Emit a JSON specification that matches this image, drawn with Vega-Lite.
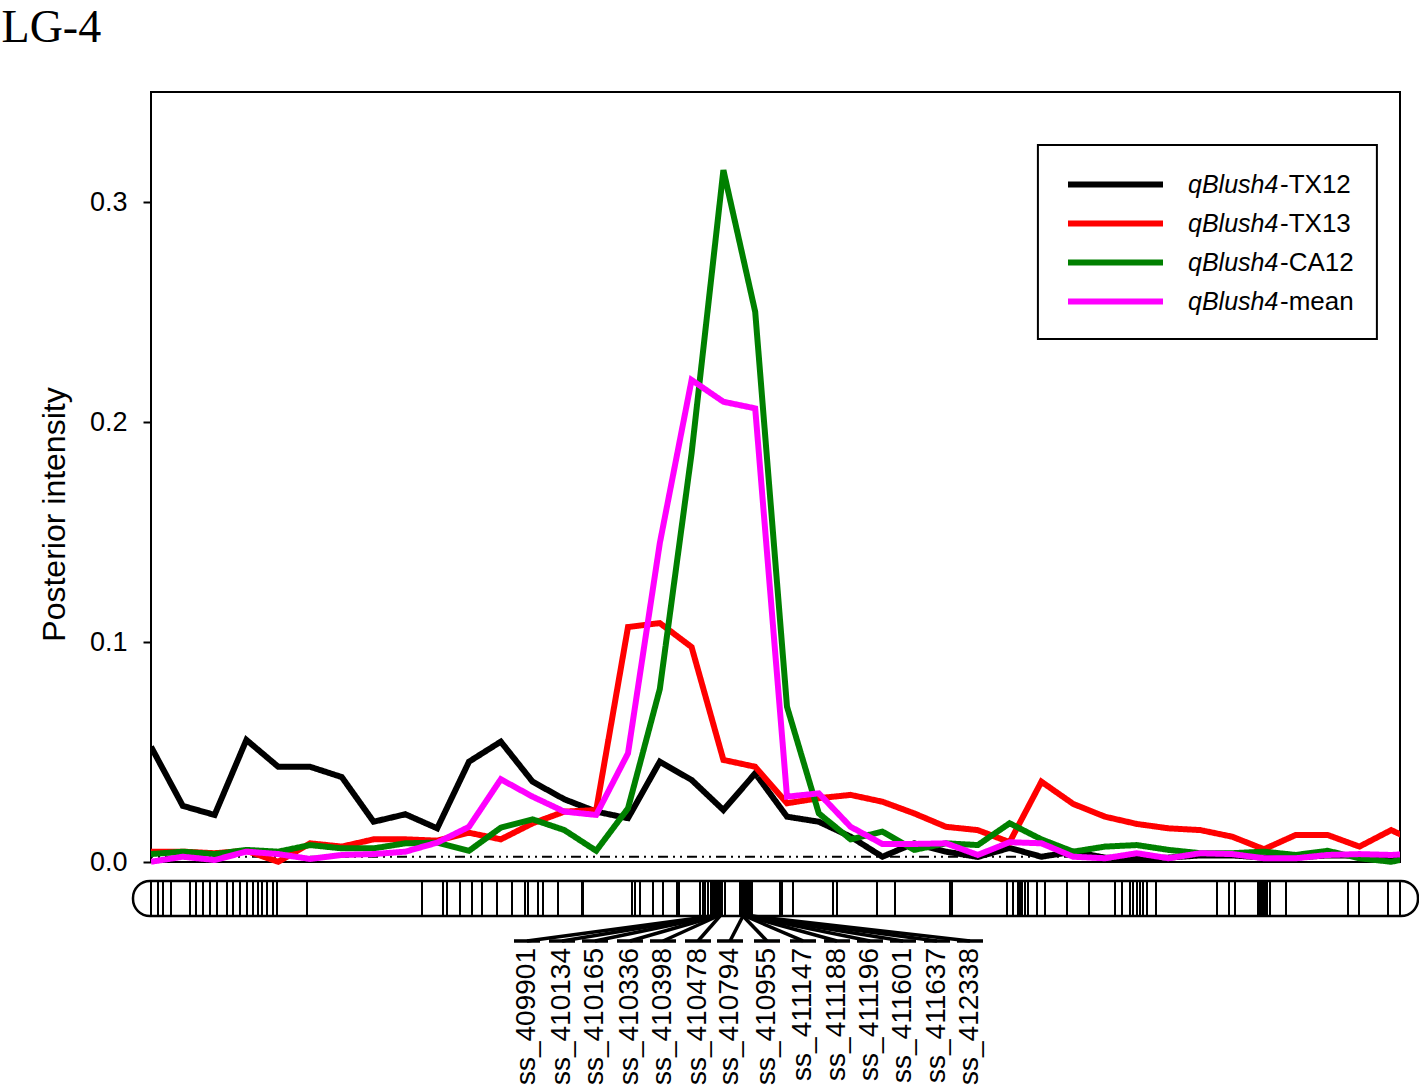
{
  "$schema": "https://vega.github.io/schema/vega-lite/v6.json",
  "width": 1249,
  "height": 1000,
  "autosize": "none",
  "padding": {"left": 151, "top": 92, "right": 19, "bottom": 0},
  "background": "white",
  "config": {"view": {"stroke": null}, "font": "Liberation Sans"},
  "datasets": {
    "series": [
      {"i": 0, "qBlush4-TX12": 0.0524, "qBlush4-TX13": 0.0047, "qBlush4-CA12": 0.0036, "qBlush4-mean": 0.0001},
      {"i": 1, "qBlush4-TX12": 0.0255, "qBlush4-TX13": 0.0047, "qBlush4-CA12": 0.0047, "qBlush4-mean": 0.0024},
      {"i": 2, "qBlush4-TX12": 0.0214, "qBlush4-TX13": 0.0040, "qBlush4-CA12": 0.0036, "qBlush4-mean": 0.0009},
      {"i": 3, "qBlush4-TX12": 0.0555, "qBlush4-TX13": 0.0051, "qBlush4-CA12": 0.0055, "qBlush4-mean": 0.0047},
      {"i": 4, "qBlush4-TX12": 0.0433, "qBlush4-TX13": 0.0001, "qBlush4-CA12": 0.0047, "qBlush4-mean": 0.0036},
      {"i": 5, "qBlush4-TX12": 0.0433, "qBlush4-TX13": 0.0085, "qBlush4-CA12": 0.0077, "qBlush4-mean": 0.0014},
      {"i": 6, "qBlush4-TX12": 0.0386, "qBlush4-TX13": 0.0070, "qBlush4-CA12": 0.0062, "qBlush4-mean": 0.0032},
      {"i": 7, "qBlush4-TX12": 0.0183, "qBlush4-TX13": 0.0103, "qBlush4-CA12": 0.0062, "qBlush4-mean": 0.0036},
      {"i": 8, "qBlush4-TX12": 0.0217, "qBlush4-TX13": 0.0103, "qBlush4-CA12": 0.0085, "qBlush4-mean": 0.0047},
      {"i": 9, "qBlush4-TX12": 0.0153, "qBlush4-TX13": 0.0097, "qBlush4-CA12": 0.0088, "qBlush4-mean": 0.0088},
      {"i": 10, "qBlush4-TX12": 0.0456, "qBlush4-TX13": 0.0133, "qBlush4-CA12": 0.0051, "qBlush4-mean": 0.0160},
      {"i": 11, "qBlush4-TX12": 0.0547, "qBlush4-TX13": 0.0103, "qBlush4-CA12": 0.0156, "qBlush4-mean": 0.0376},
      {"i": 12, "qBlush4-TX12": 0.0365, "qBlush4-TX13": 0.0176, "qBlush4-CA12": 0.0194, "qBlush4-mean": 0.0297},
      {"i": 13, "qBlush4-TX12": 0.0285, "qBlush4-TX13": 0.0229, "qBlush4-CA12": 0.0145, "qBlush4-mean": 0.0229},
      {"i": 14, "qBlush4-TX12": 0.0229, "qBlush4-TX13": 0.0236, "qBlush4-CA12": 0.0051, "qBlush4-mean": 0.0214},
      {"i": 15, "qBlush4-TX12": 0.0199, "qBlush4-TX13": 0.1068, "qBlush4-CA12": 0.0244, "qBlush4-mean": 0.0494},
      {"i": 16, "qBlush4-TX12": 0.0456, "qBlush4-TX13": 0.1086, "qBlush4-CA12": 0.0786, "qBlush4-mean": 0.1449},
      {"i": 17, "qBlush4-TX12": 0.0373, "qBlush4-TX13": 0.0977, "qBlush4-CA12": 0.1858, "qBlush4-mean": 0.2191},
      {"i": 18, "qBlush4-TX12": 0.0236, "qBlush4-TX13": 0.0464, "qBlush4-CA12": 0.3145, "qBlush4-mean": 0.2092},
      {"i": 19, "qBlush4-TX12": 0.0403, "qBlush4-TX13": 0.0433, "qBlush4-CA12": 0.2501, "qBlush4-mean": 0.2062},
      {"i": 20, "qBlush4-TX12": 0.0206, "qBlush4-TX13": 0.0267, "qBlush4-CA12": 0.0706, "qBlush4-mean": 0.0297},
      {"i": 21, "qBlush4-TX12": 0.0183, "qBlush4-TX13": 0.0290, "qBlush4-CA12": 0.0221, "qBlush4-mean": 0.0312},
      {"i": 22, "qBlush4-TX12": 0.0115, "qBlush4-TX13": 0.0305, "qBlush4-CA12": 0.0103, "qBlush4-mean": 0.0160},
      {"i": 23, "qBlush4-TX12": 0.0024, "qBlush4-TX13": 0.0274, "qBlush4-CA12": 0.0138, "qBlush4-mean": 0.0082},
      {"i": 24, "qBlush4-TX12": 0.0085, "qBlush4-TX13": 0.0221, "qBlush4-CA12": 0.0055, "qBlush4-mean": 0.0082},
      {"i": 25, "qBlush4-TX12": 0.0047, "qBlush4-TX13": 0.0160, "qBlush4-CA12": 0.0085, "qBlush4-mean": 0.0085},
      {"i": 26, "qBlush4-TX12": 0.0023, "qBlush4-TX13": 0.0145, "qBlush4-CA12": 0.0077, "qBlush4-mean": 0.0032},
      {"i": 27, "qBlush4-TX12": 0.0064, "qBlush4-TX13": 0.0090, "qBlush4-CA12": 0.0176, "qBlush4-mean": 0.0090},
      {"i": 28, "qBlush4-TX12": 0.0024, "qBlush4-TX13": 0.0365, "qBlush4-CA12": 0.0103, "qBlush4-mean": 0.0085},
      {"i": 29, "qBlush4-TX12": 0.0047, "qBlush4-TX13": 0.0264, "qBlush4-CA12": 0.0047, "qBlush4-mean": 0.0024},
      {"i": 30, "qBlush4-TX12": 0.0020, "qBlush4-TX13": 0.0206, "qBlush4-CA12": 0.0070, "qBlush4-mean": 0.0017},
      {"i": 31, "qBlush4-TX12": 0.0014, "qBlush4-TX13": 0.0173, "qBlush4-CA12": 0.0077, "qBlush4-mean": 0.0040},
      {"i": 32, "qBlush4-TX12": 0.0020, "qBlush4-TX13": 0.0153, "qBlush4-CA12": 0.0055, "qBlush4-mean": 0.0017},
      {"i": 33, "qBlush4-TX12": 0.0030, "qBlush4-TX13": 0.0145, "qBlush4-CA12": 0.0040, "qBlush4-mean": 0.0040},
      {"i": 34, "qBlush4-TX12": 0.0030, "qBlush4-TX13": 0.0115, "qBlush4-CA12": 0.0040, "qBlush4-mean": 0.0036},
      {"i": 35, "qBlush4-TX12": 0.0020, "qBlush4-TX13": 0.0058, "qBlush4-CA12": 0.0047, "qBlush4-mean": 0.0017},
      {"i": 36, "qBlush4-TX12": 0.0020, "qBlush4-TX13": 0.0123, "qBlush4-CA12": 0.0032, "qBlush4-mean": 0.0017},
      {"i": 37, "qBlush4-TX12": 0.0030, "qBlush4-TX13": 0.0123, "qBlush4-CA12": 0.0051, "qBlush4-mean": 0.0032},
      {"i": 38, "qBlush4-TX12": 0.0030, "qBlush4-TX13": 0.0070, "qBlush4-CA12": 0.0017, "qBlush4-mean": 0.0036},
      {"i": 39, "qBlush4-TX12": 0.0020, "qBlush4-TX13": 0.0145, "qBlush4-CA12": 0.0001, "qBlush4-mean": 0.0032},
      {"i": 40, "qBlush4-TX12": 0.0020, "qBlush4-TX13": 0.0077, "qBlush4-CA12": 0.0030, "qBlush4-mean": 0.0040}
    ],
    "markers": [
      {"pos": 0}, {"pos": 0.22}, {"pos": 0.377}, {"pos": 0.629}, {"pos": 1.226}, {"pos": 1.415}, {"pos": 1.635}, {"pos": 1.855}, {"pos": 2.075}, {"pos": 2.39}, {"pos": 2.579}, {"pos": 2.799}, {"pos": 3.019}, {"pos": 3.208}, {"pos": 3.365}, {"pos": 3.491}, {"pos": 3.648}, {"pos": 3.836}, {"pos": 3.962}, {"pos": 4.906},
      {"pos": 8.522}, {"pos": 9.182}, {"pos": 9.308}, {"pos": 9.717}, {"pos": 10.094}, {"pos": 10.409}, {"pos": 10.881}, {"pos": 11.352}, {"pos": 11.761}, {"pos": 11.855}, {"pos": 12.17}, {"pos": 12.327}, {"pos": 12.799}, {"pos": 13.553}, {"pos": 13.585},
      {"pos": 15.126}, {"pos": 15.22}, {"pos": 15.377}, {"pos": 15.786}, {"pos": 16.101}, {"pos": 16.541}, {"pos": 16.604},
      {"pos": 17.264}, {"pos": 17.358}, {"pos": 17.421}, {"pos": 17.516}, {"pos": 17.61}, {"pos": 17.673}, {"pos": 17.736}, {"pos": 17.799}, {"pos": 17.83}, {"pos": 17.893}, {"pos": 17.956}, {"pos": 18.05},
      {"pos": 18.522}, {"pos": 18.585}, {"pos": 18.648}, {"pos": 18.711}, {"pos": 18.774}, {"pos": 18.836}, {"pos": 18.899},
      {"pos": 19.78}, {"pos": 19.843}, {"pos": 20.189}, {"pos": 21.447}, {"pos": 21.572}, {"pos": 22.83}, {"pos": 23.396}, {"pos": 25.126}, {"pos": 25.189},
      {"pos": 26.918}, {"pos": 27.107}, {"pos": 27.264}, {"pos": 27.327}, {"pos": 27.39}, {"pos": 27.484}, {"pos": 27.579}, {"pos": 27.862}, {"pos": 28.113},
      {"pos": 28.805}, {"pos": 29.497}, {"pos": 30.314}, {"pos": 30.535}, {"pos": 30.786}, {"pos": 30.881}, {"pos": 31.006}, {"pos": 31.101}, {"pos": 31.195}, {"pos": 31.321}, {"pos": 31.604},
      {"pos": 33.522}, {"pos": 33.899}, {"pos": 34.088}, {"pos": 34.811}, {"pos": 34.874}, {"pos": 34.937}, {"pos": 34.969}, {"pos": 35.031}, {"pos": 35.094}, {"pos": 35.189}, {"pos": 35.692},
      {"pos": 37.642}, {"pos": 37.987}, {"pos": 38.899}, {"pos": 39.2767}
    ],
    "labels": [
      {"name": "ss_409901", "pos": 17.673, "slot": 11.824},
      {"name": "ss_410134", "pos": 17.704, "slot": 12.925},
      {"name": "ss_410165", "pos": 17.736, "slot": 13.962},
      {"name": "ss_410336", "pos": 17.799, "slot": 15.063},
      {"name": "ss_410398", "pos": 17.83, "slot": 16.101},
      {"name": "ss_410478", "pos": 17.893, "slot": 17.201},
      {"name": "ss_410794", "pos": 18.616, "slot": 18.208},
      {"name": "ss_410955", "pos": 18.616, "slot": 19.371},
      {"name": "ss_411147", "pos": 18.679, "slot": 20.503},
      {"name": "ss_411188", "pos": 18.711, "slot": 21.572},
      {"name": "ss_411196", "pos": 18.742, "slot": 22.61},
      {"name": "ss_411601", "pos": 18.774, "slot": 23.648},
      {"name": "ss_411637", "pos": 18.836, "slot": 24.717},
      {"name": "ss_412338", "pos": 18.899, "slot": 25.755}
    ],
    "heading": [{"text": "LG-4"}]
  },
  "layer": [
    {
      "data": {"values": [{}]},
      "mark": {"type": "rect", "filled": false, "stroke": "black", "strokeWidth": 2},
      "encoding": {
        "x": {"datum": 0, "type": "quantitative", "scale": {"domain": [0, 39.2767], "nice": false, "zero": false}, "axis": null},
        "x2": {"datum": 39.2767},
        "y": {"datum": 0, "type": "quantitative", "scale": {"domain": [-0.104545, 0.35], "nice": false, "zero": false},
          "axis": {"values": [0, 0.1, 0.2, 0.3], "format": ".1f", "domain": false, "grid": false, "tickColor": "black", "tickSize": 8, "tickWidth": 2, "labelPadding": 16, "labelFont": "Liberation Sans", "labelFontSize": 27, "labelColor": "black", "title": "Posterior intensity", "titleFont": "Liberation Sans", "titleFontSize": 32, "titleFontWeight": "normal", "titleColor": "black", "titleX": -97, "titleY": 422, "titleAngle": 270, "titleAlign": "center", "titleBaseline": "middle"}},
        "y2": {"datum": 0.35}
      }
    },
    {
      "data": {"values": [{}]},
      "mark": {"type": "rule", "stroke": "black", "strokeWidth": 2, "strokeDash": [2, 5, 2, 5, 10, 5]},
      "encoding": {
        "x": {"datum": 0, "type": "quantitative", "scale": {"domain": [0, 39.2767], "nice": false, "zero": false}, "axis": null},
        "x2": {"datum": 39.2767},
        "y": {"datum": 0.0024, "type": "quantitative", "scale": {"domain": [-0.104545, 0.35], "nice": false, "zero": false},
          "axis": {"values": [0, 0.1, 0.2, 0.3], "format": ".1f", "domain": false, "grid": false, "tickColor": "black", "tickSize": 8, "tickWidth": 2, "labelPadding": 16, "labelFont": "Liberation Sans", "labelFontSize": 27, "labelColor": "black", "title": "Posterior intensity", "titleFont": "Liberation Sans", "titleFontSize": 32, "titleFontWeight": "normal", "titleColor": "black", "titleX": -97, "titleY": 422, "titleAngle": 270, "titleAlign": "center", "titleBaseline": "middle"}}
      }
    },
    {
      "data": {"name": "series"},
      "transform": [{"fold": ["qBlush4-TX12", "qBlush4-TX13", "qBlush4-CA12", "qBlush4-mean"], "as": ["series", "value"]}],
      "mark": {"type": "line", "strokeWidth": 6, "clip": true},
      "encoding": {
        "x": {"field": "i", "type": "quantitative", "scale": {"domain": [0, 39.2767], "nice": false, "zero": false}, "axis": null},
        "y": {"field": "value", "type": "quantitative", "scale": {"domain": [-0.104545, 0.35], "nice": false, "zero": false},
          "axis": {"values": [0, 0.1, 0.2, 0.3], "format": ".1f", "domain": false, "grid": false, "tickColor": "black", "tickSize": 8, "tickWidth": 2, "labelPadding": 16, "labelFont": "Liberation Sans", "labelFontSize": 27, "labelColor": "black", "title": "Posterior intensity", "titleFont": "Liberation Sans", "titleFontSize": 32, "titleFontWeight": "normal", "titleColor": "black", "titleX": -97, "titleY": 422, "titleAngle": 270, "titleAlign": "center", "titleBaseline": "middle"}},
        "color": {"field": "series", "type": "nominal",
          "scale": {"domain": ["qBlush4-TX12", "qBlush4-TX13", "qBlush4-CA12", "qBlush4-mean"], "range": ["#000000", "#ff0000", "#008000", "#ff00ff"]},
          "legend": {"orient": "none", "legendX": 914, "legendY": 73, "title": null, "padding": 0, "symbolType": "stroke", "symbolSize": 9025, "symbolStrokeWidth": 6, "symbolOffset": 0, "clipHeight": 39, "rowPadding": 0, "labelOffset": 22, "labelExpr": "'qBlush4'", "labelFontStyle": "italic", "labelFont": "Liberation Sans", "labelFontSize": 25, "labelColor": "black", "labelLimit": 0}},
        "strokeDash": {"field": "series", "type": "nominal", "sort": ["qBlush4-TX12", "qBlush4-TX13", "qBlush4-CA12", "qBlush4-mean"],
          "scale": {"range": [[1, 0], [1, 0], [1, 0], [1, 0]]},
          "legend": {"orient": "none", "legendX": 1103, "legendY": 73, "title": null, "padding": 0, "symbolSize": 0, "symbolStrokeWidth": 0, "symbolOpacity": 0, "clipHeight": 39, "rowPadding": 0, "labelOffset": 0, "labelExpr": "replace(datum.label, 'qBlush4', '')", "labelFont": "Liberation Sans", "labelFontSize": 26, "labelColor": "black", "labelLimit": 0}}
      }
    },
    {
      "data": {"values": [{}]},
      "mark": {"type": "rect", "filled": false, "stroke": "black", "strokeWidth": 2},
      "encoding": {
        "x": {"datum": 27.89, "type": "quantitative", "scale": {"domain": [0, 39.2767], "nice": false, "zero": false}, "axis": null},
        "x2": {"datum": 38.55},
        "y": {"datum": 0.3259, "type": "quantitative", "scale": {"domain": [-0.104545, 0.35], "nice": false, "zero": false},
          "axis": {"values": [0, 0.1, 0.2, 0.3], "format": ".1f", "domain": false, "grid": false, "tickColor": "black", "tickSize": 8, "tickWidth": 2, "labelPadding": 16, "labelFont": "Liberation Sans", "labelFontSize": 27, "labelColor": "black", "title": "Posterior intensity", "titleFont": "Liberation Sans", "titleFontSize": 32, "titleFontWeight": "normal", "titleColor": "black", "titleX": -97, "titleY": 422, "titleAngle": 270, "titleAlign": "center", "titleBaseline": "middle"}},
        "y2": {"datum": 0.2377}
      }
    },
    {
      "data": {"values": [{}]},
      "mark": {"type": "rect", "fill": "white", "stroke": "black", "strokeWidth": 2.5, "cornerRadius": 17},
      "encoding": {
        "x": {"datum": -0.566, "type": "quantitative", "scale": {"domain": [0, 39.2767], "nice": false, "zero": false}, "axis": null},
        "x2": {"datum": 39.843},
        "y": {"datum": -0.00864, "type": "quantitative", "scale": {"domain": [-0.104545, 0.35], "nice": false, "zero": false},
          "axis": {"values": [0, 0.1, 0.2, 0.3], "format": ".1f", "domain": false, "grid": false, "tickColor": "black", "tickSize": 8, "tickWidth": 2, "labelPadding": 16, "labelFont": "Liberation Sans", "labelFontSize": 27, "labelColor": "black", "title": "Posterior intensity", "titleFont": "Liberation Sans", "titleFontSize": 32, "titleFontWeight": "normal", "titleColor": "black", "titleX": -97, "titleY": 422, "titleAngle": 270, "titleAlign": "center", "titleBaseline": "middle"}},
        "y2": {"datum": -0.02455}
      }
    },
    {
      "data": {"name": "markers"},
      "mark": {"type": "rule", "stroke": "black", "strokeWidth": 2},
      "encoding": {
        "x": {"field": "pos", "type": "quantitative", "scale": {"domain": [0, 39.2767], "nice": false, "zero": false}, "axis": null},
        "y": {"datum": -0.00864, "type": "quantitative", "scale": {"domain": [-0.104545, 0.35], "nice": false, "zero": false},
          "axis": {"values": [0, 0.1, 0.2, 0.3], "format": ".1f", "domain": false, "grid": false, "tickColor": "black", "tickSize": 8, "tickWidth": 2, "labelPadding": 16, "labelFont": "Liberation Sans", "labelFontSize": 27, "labelColor": "black", "title": "Posterior intensity", "titleFont": "Liberation Sans", "titleFontSize": 32, "titleFontWeight": "normal", "titleColor": "black", "titleX": -97, "titleY": 422, "titleAngle": 270, "titleAlign": "center", "titleBaseline": "middle"}},
        "y2": {"datum": -0.02455}
      }
    },
    {
      "data": {"name": "labels"},
      "mark": {"type": "rule", "stroke": "black", "strokeWidth": 3.5},
      "encoding": {
        "x": {"field": "pos", "type": "quantitative", "scale": {"domain": [0, 39.2767], "nice": false, "zero": false}, "axis": null},
        "x2": {"field": "slot"},
        "y": {"datum": -0.02455, "type": "quantitative", "scale": {"domain": [-0.104545, 0.35], "nice": false, "zero": false},
          "axis": {"values": [0, 0.1, 0.2, 0.3], "format": ".1f", "domain": false, "grid": false, "tickColor": "black", "tickSize": 8, "tickWidth": 2, "labelPadding": 16, "labelFont": "Liberation Sans", "labelFontSize": 27, "labelColor": "black", "title": "Posterior intensity", "titleFont": "Liberation Sans", "titleFontSize": 32, "titleFontWeight": "normal", "titleColor": "black", "titleX": -97, "titleY": 422, "titleAngle": 270, "titleAlign": "center", "titleBaseline": "middle"}},
        "y2": {"datum": -0.0359}
      }
    },
    {
      "data": {"name": "labels"},
      "mark": {"type": "tick", "orient": "horizontal", "color": "black", "opacity": 1, "size": 26, "thickness": 3.5},
      "encoding": {
        "x": {"field": "slot", "type": "quantitative", "scale": {"domain": [0, 39.2767], "nice": false, "zero": false}, "axis": null},
        "y": {"datum": -0.0359, "type": "quantitative", "scale": {"domain": [-0.104545, 0.35], "nice": false, "zero": false},
          "axis": {"values": [0, 0.1, 0.2, 0.3], "format": ".1f", "domain": false, "grid": false, "tickColor": "black", "tickSize": 8, "tickWidth": 2, "labelPadding": 16, "labelFont": "Liberation Sans", "labelFontSize": 27, "labelColor": "black", "title": "Posterior intensity", "titleFont": "Liberation Sans", "titleFontSize": 32, "titleFontWeight": "normal", "titleColor": "black", "titleX": -97, "titleY": 422, "titleAngle": 270, "titleAlign": "center", "titleBaseline": "middle"}}
      }
    },
    {
      "data": {"name": "labels"},
      "mark": {"type": "text", "angle": 270, "align": "right", "baseline": "middle", "font": "Liberation Sans", "fontSize": 28, "color": "black"},
      "encoding": {
        "x": {"field": "slot", "type": "quantitative", "scale": {"domain": [0, 39.2767], "nice": false, "zero": false}, "axis": null},
        "y": {"datum": -0.0391, "type": "quantitative", "scale": {"domain": [-0.104545, 0.35], "nice": false, "zero": false},
          "axis": {"values": [0, 0.1, 0.2, 0.3], "format": ".1f", "domain": false, "grid": false, "tickColor": "black", "tickSize": 8, "tickWidth": 2, "labelPadding": 16, "labelFont": "Liberation Sans", "labelFontSize": 27, "labelColor": "black", "title": "Posterior intensity", "titleFont": "Liberation Sans", "titleFontSize": 32, "titleFontWeight": "normal", "titleColor": "black", "titleX": -97, "titleY": 422, "titleAngle": 270, "titleAlign": "center", "titleBaseline": "middle"}},
        "text": {"field": "name", "type": "nominal"}
      }
    },
    {
      "data": {"name": "heading"},
      "mark": {"type": "text", "align": "left", "baseline": "alphabetic", "font": "Liberation Serif", "fontSize": 46, "color": "black"},
      "encoding": {
        "x": {"datum": -4.7, "type": "quantitative", "scale": {"domain": [0, 39.2767], "nice": false, "zero": false}, "axis": null},
        "y": {"datum": 0.3727, "type": "quantitative", "scale": {"domain": [-0.104545, 0.35], "nice": false, "zero": false},
          "axis": {"values": [0, 0.1, 0.2, 0.3], "format": ".1f", "domain": false, "grid": false, "tickColor": "black", "tickSize": 8, "tickWidth": 2, "labelPadding": 16, "labelFont": "Liberation Sans", "labelFontSize": 27, "labelColor": "black", "title": "Posterior intensity", "titleFont": "Liberation Sans", "titleFontSize": 32, "titleFontWeight": "normal", "titleColor": "black", "titleX": -97, "titleY": 422, "titleAngle": 270, "titleAlign": "center", "titleBaseline": "middle"}},
        "text": {"field": "text", "type": "nominal"}
      }
    }
  ]
}
